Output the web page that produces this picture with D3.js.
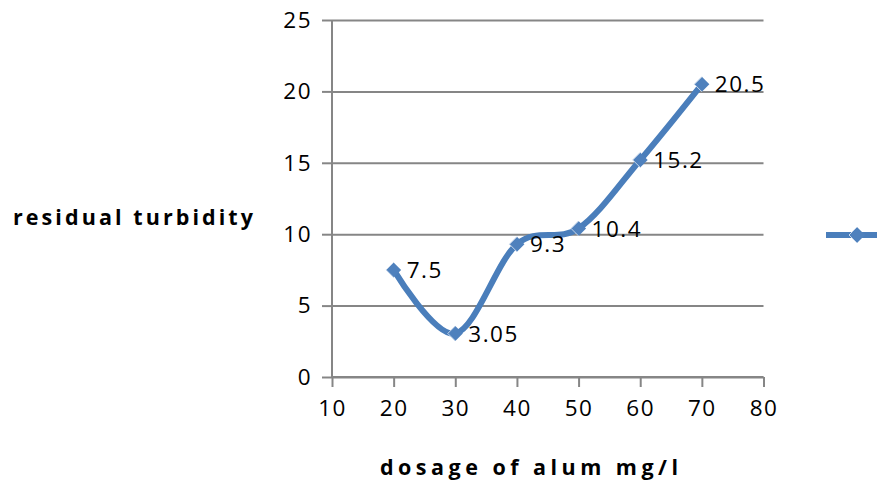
<!DOCTYPE html>
<html>
<head>
<meta charset="utf-8">
<script src="https://cdn.jsdelivr.net/npm/d3@7"></script>
<style>
  html, body { margin: 0; padding: 0; background: #fff; }
  svg { display: block; font-family: "Open Sans", "DejaVu Sans", sans-serif; }
</style>
</head>
<body>
<div id="chart"></div>
<script>
// values
let dosage = [20, 30, 40, 50, 60, 70];
let turbidity = [7.5, 3.05, 9.3, 10.4, 15.2, 20.5];
let xTicks = [10, 20, 30, 40, 50, 60, 70, 80];
let yTicks = [0, 5, 10, 15, 20, 25];
let xTitle = 'dosage of alum mg/l';
let yTitle = 'residual turbidity';

let width = 877, height = 483;
let plot = {left: 332, right: 763.5, top: 20, bottom: 377};

let $svg = d3.select('#chart').append('svg')
    .attr('width', width)
    .attr('height', height);

let x = d3.scaleLinear().domain([10, 80]).range([plot.left, plot.right]);
let y = d3.scaleLinear().domain([0, 25]).range([plot.bottom, plot.top]);

let gridColor = '#868686';
let tickFont = 22.5;

// horizontal gridlines + y ticks
$svg.append('g')
    .attr('transform', `translate(${plot.left},0)`)
    .call(d3.axisLeft(y).tickValues(yTicks).tickSize(10).tickPadding(10))
    .call(g => g.select('.domain').remove())
    .call(g => g.selectAll('.tick line').clone()
        .attr('x2', plot.right - plot.left))
    .call(g => g.selectAll('.tick line')
        .attr('stroke', gridColor).attr('stroke-width', 2))
    .call(g => g.selectAll('.tick text')
        .attr('font-size', tickFont).attr('fill', '#000')
        .attr('letter-spacing', 1.5)
        .attr('font-family', '"Open Sans", sans-serif'));

// y axis line
$svg.append('line')
    .attr('x1', plot.left).attr('x2', plot.left)
    .attr('y1', plot.top).attr('y2', plot.bottom)
    .attr('stroke', gridColor).attr('stroke-width', 2);

// x axis
$svg.append('g')
    .attr('transform', `translate(0,${plot.bottom})`)
    .call(d3.axisBottom(x).tickValues(xTicks).tickSize(10).tickPadding(13))
    .call(g => g.select('.domain')
        .attr('stroke', gridColor).attr('stroke-width', 2)
        .attr('d', `M${plot.left},0H${plot.right}`))
    .call(g => g.selectAll('.tick line')
        .attr('stroke', gridColor).attr('stroke-width', 2))
    .call(g => g.selectAll('.tick text')
        .attr('font-size', tickFont).attr('fill', '#000')
        .attr('letter-spacing', 1.5)
        .attr('font-family', '"Open Sans", sans-serif'));

// series
let points = dosage.map((d, i) => ({x: d, y: turbidity[i]}));
let line = d3.line()
    .x(d => x(d.x))
    .y(d => y(d.y))
    .curve(d3.curveCardinal.tension(0));

let lineColor = '#4a7ebb';
$svg.append('path')
    .datum(points)
    .attr('d', line)
    .attr('fill', 'none')
    .attr('stroke', lineColor)
    .attr('stroke-width', 6)
    .attr('stroke-linejoin', 'round');

let diamond = r => `M0,${-r}L${r},0L0,${r}L${-r},0Z`;

$svg.append('g').selectAll('path')
    .data(points)
    .join('path')
    .attr('transform', d => `translate(${x(d.x)},${y(d.y)})`)
    .attr('d', diamond(7.5))
    .attr('fill', '#4f81bd')
    .attr('stroke', '#c6d6ea')
    .attr('stroke-width', 1)
    .attr('stroke-dasharray', '0 21.2 21.2 0');

// data labels
$svg.append('g').selectAll('text')
    .data(points)
    .join('text')
    .attr('x', d => x(d.x) + 13)
    .attr('y', d => y(d.y))
    .attr('dy', '0.36em')
    .attr('font-size', 22.5)
    .attr('letter-spacing', 1.5)
    .attr('fill', '#000')
    .text(d => d.y);

// axis titles
$svg.append('text')
    .attr('x', 13).attr('y', 225)
    .attr('font-size', 21.5)
    .attr('font-weight', 'bold')
    .attr('textLength', 240)
    .attr('lengthAdjust', 'spacing')
    .attr('fill', '#000')
    .text(yTitle);

$svg.append('text')
    .attr('x', 380).attr('y', 475)
    .attr('font-size', 21.5)
    .attr('font-weight', 'bold')
    .attr('textLength', 298)
    .attr('lengthAdjust', 'spacing')
    .attr('fill', '#000')
    .text(xTitle);

// legend (cut at the right edge like the original)
let $legend = $svg.append('g').attr('transform', 'translate(857,235)');
$legend.append('line')
    .attr('x1', -31).attr('x2', 25)
    .attr('stroke', lineColor).attr('stroke-width', 6);
$legend.append('path')
    .attr('d', diamond(8))
    .attr('fill', '#4f81bd')
    .attr('stroke', '#c6d6ea')
    .attr('stroke-width', 1)
    .attr('stroke-dasharray', '0 22.6 22.6 0');
</script>
</body>
</html>
